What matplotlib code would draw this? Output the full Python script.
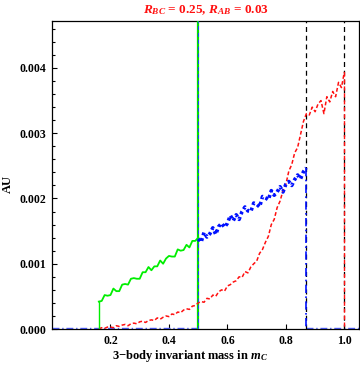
import numpy as np
import matplotlib as mpl

mpl.use("Agg")

import matplotlib.pyplot as plt
from matplotlib.ticker import MultipleLocator, FormatStrFormatter

mpl.rcParams.update(
    {
        "font.family": "Liberation Serif",
        "font.weight": "bold",
        "mathtext.fontset": "custom",
        "mathtext.rm": "Liberation Serif:bold",
        "mathtext.it": "Liberation Serif:italic:bold",
    }
)

# --- data (AU values, in units of 1e-3) ---
green_x = [0.16, 0.17, 0.18, 0.19, 0.20, 0.21, 0.22, 0.23, 0.24, 0.25, 0.26, 0.27,
           0.28, 0.29, 0.30, 0.31, 0.32, 0.33, 0.34, 0.35, 0.36, 0.37, 0.38, 0.39,
           0.40, 0.41, 0.42, 0.43, 0.44, 0.45, 0.46, 0.47, 0.48, 0.49, 0.50]
green_y = [0.42, 0.43, 0.52, 0.51, 0.52, 0.62, 0.58, 0.58, 0.68, 0.69, 0.68, 0.77,
           0.78, 0.77, 0.77, 0.87, 0.87, 0.95, 0.90, 0.96, 0.96, 1.05, 1.00, 1.08,
           1.12, 1.11, 1.11, 1.22, 1.20, 1.21, 1.29, 1.25, 1.35, 1.35, 1.40]

blue_x = [0.50, 0.51, 0.52, 0.53, 0.54, 0.55, 0.56, 0.57, 0.58, 0.59, 0.60, 0.61,
          0.62, 0.63, 0.64, 0.65, 0.66, 0.67, 0.68, 0.69, 0.70, 0.71, 0.72, 0.73,
          0.74, 0.75, 0.76, 0.77, 0.78, 0.79, 0.80, 0.81, 0.82, 0.83, 0.84, 0.85,
          0.86, 0.87]
blue_y = [1.38, 1.33, 1.48, 1.41, 1.46, 1.55, 1.45, 1.57, 1.62, 1.56, 1.62, 1.74,
          1.66, 1.75, 1.68, 1.80, 1.87, 1.81, 1.80, 1.93, 1.91, 1.87, 2.03, 2.01,
          1.98, 2.12, 2.05, 2.10, 2.18, 2.10, 2.22, 2.26, 2.20, 2.29, 2.36, 2.30,
          2.41, 2.47]

red_x = [0.16, 0.17, 0.18, 0.19, 0.20, 0.21, 0.22, 0.23, 0.24, 0.25, 0.26, 0.27,
         0.28, 0.29, 0.30, 0.31, 0.32, 0.33, 0.34, 0.35, 0.36, 0.37, 0.38, 0.39,
         0.40, 0.41, 0.42, 0.43, 0.44, 0.45, 0.46, 0.47, 0.48, 0.49, 0.50, 0.51,
         0.52, 0.53, 0.54, 0.55, 0.56, 0.57, 0.58, 0.59, 0.60, 0.61, 0.62, 0.63,
         0.64, 0.65, 0.66, 0.67, 0.68, 0.69, 0.70, 0.71, 0.72, 0.73, 0.74, 0.75,
         0.76, 0.77, 0.78, 0.79, 0.80, 0.81, 0.82, 0.83, 0.84, 0.85, 0.86, 0.87,
         0.88, 0.89, 0.90, 0.91, 0.92, 0.93, 0.94, 0.95, 0.96, 0.97, 0.98, 0.99,
         1.00]
red_y = [0.00, 0.02, 0.01, 0.03, 0.03, 0.02, 0.05, 0.04, 0.06, 0.07, 0.05, 0.08,
         0.09, 0.08, 0.11, 0.12, 0.10, 0.13, 0.14, 0.13, 0.17, 0.15, 0.18, 0.20,
         0.19, 0.23, 0.22, 0.26, 0.25, 0.29, 0.31, 0.30, 0.35, 0.36, 0.40, 0.42,
         0.41, 0.47, 0.46, 0.52, 0.50, 0.57, 0.60, 0.58, 0.66, 0.68, 0.72, 0.74,
         0.80, 0.79, 0.88, 0.86, 0.95, 1.00, 1.04, 1.16, 1.22, 1.33, 1.42, 1.60,
         1.68, 1.86, 1.96, 2.12, 2.22, 2.42, 2.52, 2.70, 2.78, 2.98, 3.18, 3.30,
         3.28, 3.40, 3.33, 3.45, 3.50, 3.30, 3.56, 3.48, 3.64, 3.56, 3.78, 3.70,
         3.94]

cut_green = 0.5    # green / blue boundary
cut_blue = 0.87    # blue endpoint
cut_red = 1.0      # red endpoint

scale = 1e-3
gy = np.array(green_y) * scale
by = np.array(blue_y) * scale
ry = np.array(red_y) * scale

fig = plt.figure(figsize=(3.6, 3.69), dpi=100)
ax = fig.add_axes([52 / 360, 40 / 369, 307 / 360, 308 / 369])
ax.set_xlim(0, 1.05)
ax.set_ylim(0, 0.00472)

# zero baselines
base = 0.00002
ax.plot([0, cut_green], [base, base], color="#5060ff", lw=1.0,
        ls=(0, (5, 2, 1, 2)), zorder=2)
ax.plot([cut_blue, 1.05], [base, base], color="#5060ff", lw=1.0,
        ls=(0, (5, 2, 1, 2)), zorder=2)

# vertical markers
ax.axvline(cut_green, color="#00dd00", lw=1.6, zorder=3)
ax.axvline(cut_green, color="#2040ff", lw=0.7, ls=(0, (4, 3)), zorder=4)
ax.axvline(cut_blue, color="black", lw=0.9, ls=(0, (4, 3)), zorder=2)
ax.axvline(cut_red, color="black", lw=0.9, ls=(0, (4, 3)), zorder=2)

# red
ax.plot(red_x, ry, color="#ff1010", lw=1.1, ls=(0, (2.5, 1.5)), zorder=3)
ax.plot([cut_red, cut_red], [ry[-1], 0], color="#ff1010", lw=1.0,
        ls=(0, (3, 2)), zorder=3)

# green
ax.plot([green_x[0], green_x[0]], [0, gy[0]], color="#00ee00", lw=1.0, zorder=4)
ax.plot(green_x, gy, color="#00ee00", lw=1.3, zorder=4)

# blue
ax.plot(blue_x, by, color="#0010ff", lw=2.6, ls=(0, (0.8, 0.8)), zorder=5)
ax.plot([cut_blue, cut_blue], [by[-1], 0], color="#0010ff", lw=1.2,
        ls=(0, (5, 2, 1, 2)), zorder=5)

# axes styling
ax.xaxis.set_major_locator(MultipleLocator(0.2))
ax.yaxis.set_major_locator(MultipleLocator(0.001))
ax.yaxis.set_minor_locator(MultipleLocator(0.0002))
ax.yaxis.set_major_formatter(FormatStrFormatter("%.3f"))
ax.xaxis.set_major_formatter(FormatStrFormatter("%.1f"))
ax.set_xticks([0.2, 0.4, 0.6, 0.8, 1.0])
ax.tick_params(which="both", direction="in", top=False, right=False,
               labelsize=8.5, width=0.8, pad=4)
ax.tick_params(which="major", length=3.6)
ax.tick_params(which="minor", length=2.2)
for s in ax.spines.values():
    s.set_linewidth(0.9)

ax.set_title(r"$R_{BC}$ = 0.25, $R_{AB}$ = 0.03", color="#ff1010",
             fontsize=9.5, fontweight="bold", pad=6)
ax.text(0.45, -0.088, r"3$-$body invariant mass in $m_C$", transform=ax.transAxes,
        ha="center", va="center", fontsize=9, fontweight="bold")
ax.set_ylabel("AU", fontsize=9, fontweight="bold")
ax.yaxis.set_label_coords(-0.125, 0.47)

fig.savefig("out.png", dpi=100, facecolor="white")
